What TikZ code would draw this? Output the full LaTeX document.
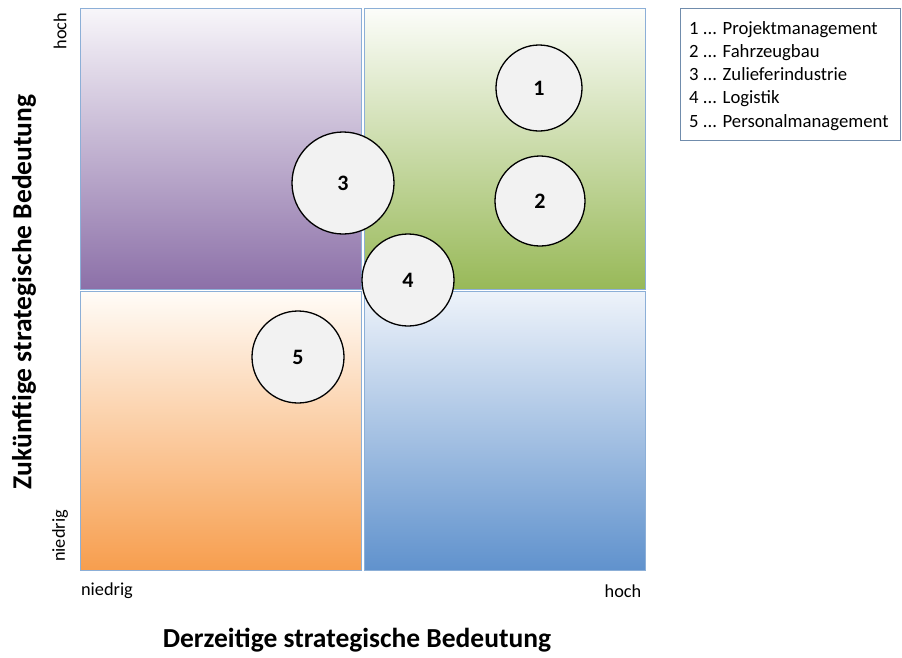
\documentclass[tikz,border=0pt]{standalone}
\usepackage{fontspec}
\setmainfont{Carlito}
\definecolor{purp}{RGB}{140,112,168}
\definecolor{purpT}{RGB}{248,246,250}
\definecolor{grn}{RGB}{152,185,88}
\definecolor{grnT}{RGB}{252,253,250}
\definecolor{org}{RGB}{247,158,78}
\definecolor{orgT}{RGB}{255,252,248}
\definecolor{blu}{RGB}{96,146,205}
\definecolor{bluT}{RGB}{238,243,250}
\definecolor{edgeb}{RGB}{140,175,215}
\definecolor{circ}{RGB}{242,242,242}
\tikzset{
  quad/.style={draw=edgeb, line width=0.8pt},
  bubble/.style={circle, draw=black, line width=1.3pt, fill=circ, inner sep=0pt, font=\bfseries\fontsize{22}{24}\selectfont},
  lab/.style={font=\fontsize{18.3}{20}\selectfont, inner sep=0pt},
  ttl/.style={font=\bfseries\fontsize{27.5}{30}\selectfont, inner sep=0pt},
  leg/.style={font=\fontsize{18.7}{21}\selectfont, inner sep=0pt, anchor=base west}
}
\begin{document}
\begin{tikzpicture}[x=1pt,y=-1pt]
\useasboundingbox (0,0) rectangle (902,657);
% quadrants
\shade[top color=purpT, bottom color=purp] (80,8) rectangle (361,289);
\draw[quad] (80,8) rectangle (361,289);
\shade[top color=grnT, bottom color=grn] (364,8) rectangle (645,289);
\draw[quad] (364,8) rectangle (645,289);
\shade[top color=orgT, bottom color=org] (80,291) rectangle (361,570);
\draw[quad] (80,291) rectangle (361,570);
\shade[top color=bluT, bottom color=blu] (364,291) rectangle (645,570);
\draw[quad] (364,291) rectangle (645,570);
% bubbles
\node[bubble, minimum size=86pt] (b1) at (539,88) {1};
\node[bubble, minimum size=90pt] (b2) at (540,201) {2};
\node[bubble, minimum size=102pt] (b3) at (343,183) {3};
\node[bubble, minimum size=92pt] (b4) at (408,280) {4};
\node[bubble, minimum size=92pt] (b5) at (298,357) {5};
% axis labels
\node[lab, rotate=90] (yh) at (60,31) {hoch};
\node[lab, rotate=90] (yn) at (60,536) {niedrig};
\node[lab] (xn) at (107,591) {niedrig};
\node[lab] (xh) at (623,591) {hoch};
\node[ttl, rotate=90] (yt) at (24,292) {Zukünftige strategische Bedeutung};
\node[ttl] (xt) at (357,640) {Derzeitige strategische Bedeutung};
% legend
\draw[draw=edgeb!80!black, line width=0.8pt] (680,8) rectangle (900,140);
\node[leg] (l1) at (689,34) {1 ... Projektmanagement};
\node[leg] (l2) at (689,57) {2 ... Fahrzeugbau};
\node[leg] (l3) at (689,80) {3 ... Zulieferindustrie};
\node[leg] (l4) at (689,103) {4 ... Logistik};
\node[leg] (l5) at (689,127) {5 ... Personalmanagement};
\end{tikzpicture}
\end{document}
